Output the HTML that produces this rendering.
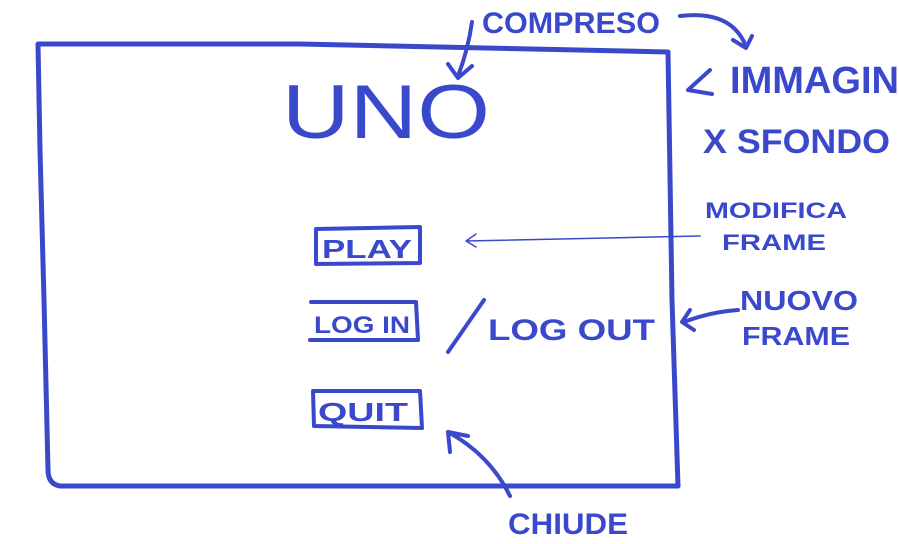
<!DOCTYPE html>
<html><head><meta charset="utf-8"><style>
html,body{margin:0;padding:0;background:#fff;}
svg{display:block}
text{font-family:"Liberation Sans",sans-serif;fill:#3a49cc;font-weight:bold;}
</style></head><body>
<svg width="899" height="544" viewBox="0 0 899 544" xmlns="http://www.w3.org/2000/svg">
<g fill="none" stroke="#3a49cc" stroke-width="5" stroke-linecap="round" stroke-linejoin="round">
<!-- main frame -->
<path d="M38,44 L300,44 L668,52 Q670,200 672,300 L678,486 L60,486 Q48,484 48,470 L44,300 L40,150 Z"/>
<!-- buttons -->
<path d="M316,229 L420,227 L420,263 L316,264 Z" stroke-width="4"/>
<path d="M311,302 L416,302 L418,340 L310,340" stroke-width="4"/>
<path d="M313,391 L420,391 L422,428 L314,426 Z" stroke-width="4"/>
<!-- slash -->
<path d="M484,300 L448,352" stroke-width="4"/>
<!-- compreso arrow -->
<path d="M472,22 Q468,50 458,76 M448,64 L458,78 L472,66" stroke-width="4"/>
<!-- immagin arrows -->
<path d="M680,16 Q730,10 745,44 M733,40 L746,48 L752,36" stroke-width="4"/>
<path d="M710,70 L688,90 L712,94" stroke-width="4"/>
<!-- nuovo arrow -->
<path d="M738,310 Q710,312 684,322 M690,310 L682,322 L694,330" stroke-width="4"/>
<!-- chiude arrow -->
<path d="M510,496 Q490,455 448,432 M450,452 L448,432 L468,436" stroke-width="4"/>
<!-- modifica arrow thin -->
<path d="M700,236 L466,241 M476,234 L466,241 L476,247" stroke-width="1.5"/>
</g>
<text x="282" y="138" font-size="76" font-weight="normal" style="font-weight:300" textLength="208" lengthAdjust="spacingAndGlyphs">UNO</text>
<text x="482" y="33" font-size="30" textLength="178" lengthAdjust="spacingAndGlyphs">COMPRESO</text>
<text x="730" y="93" font-size="38" textLength="169" lengthAdjust="spacingAndGlyphs">IMMAGIN</text>
<text x="703" y="153" font-size="34" textLength="187" lengthAdjust="spacingAndGlyphs">X SFONDO</text>
<text x="705" y="218" font-size="22" textLength="142" lengthAdjust="spacingAndGlyphs">MODIFICA</text>
<text x="722" y="250" font-size="22" textLength="104" lengthAdjust="spacingAndGlyphs">FRAME</text>
<text x="322" y="258" font-size="26" textLength="90" lengthAdjust="spacingAndGlyphs">PLAY</text>
<text x="314" y="333" font-size="24" textLength="96" lengthAdjust="spacingAndGlyphs">LOG IN</text>
<text x="318" y="421" font-size="26" textLength="90" lengthAdjust="spacingAndGlyphs">QUIT</text>
<text x="488" y="340" font-size="30" textLength="167" lengthAdjust="spacingAndGlyphs">LOG OUT</text>
<text x="740" y="310" font-size="28" textLength="118" lengthAdjust="spacingAndGlyphs">NUOVO</text>
<text x="742" y="345" font-size="26" textLength="108" lengthAdjust="spacingAndGlyphs">FRAME</text>
<text x="508" y="534" font-size="30" textLength="120" lengthAdjust="spacingAndGlyphs">CHIUDE</text>
</svg>
</body></html>
